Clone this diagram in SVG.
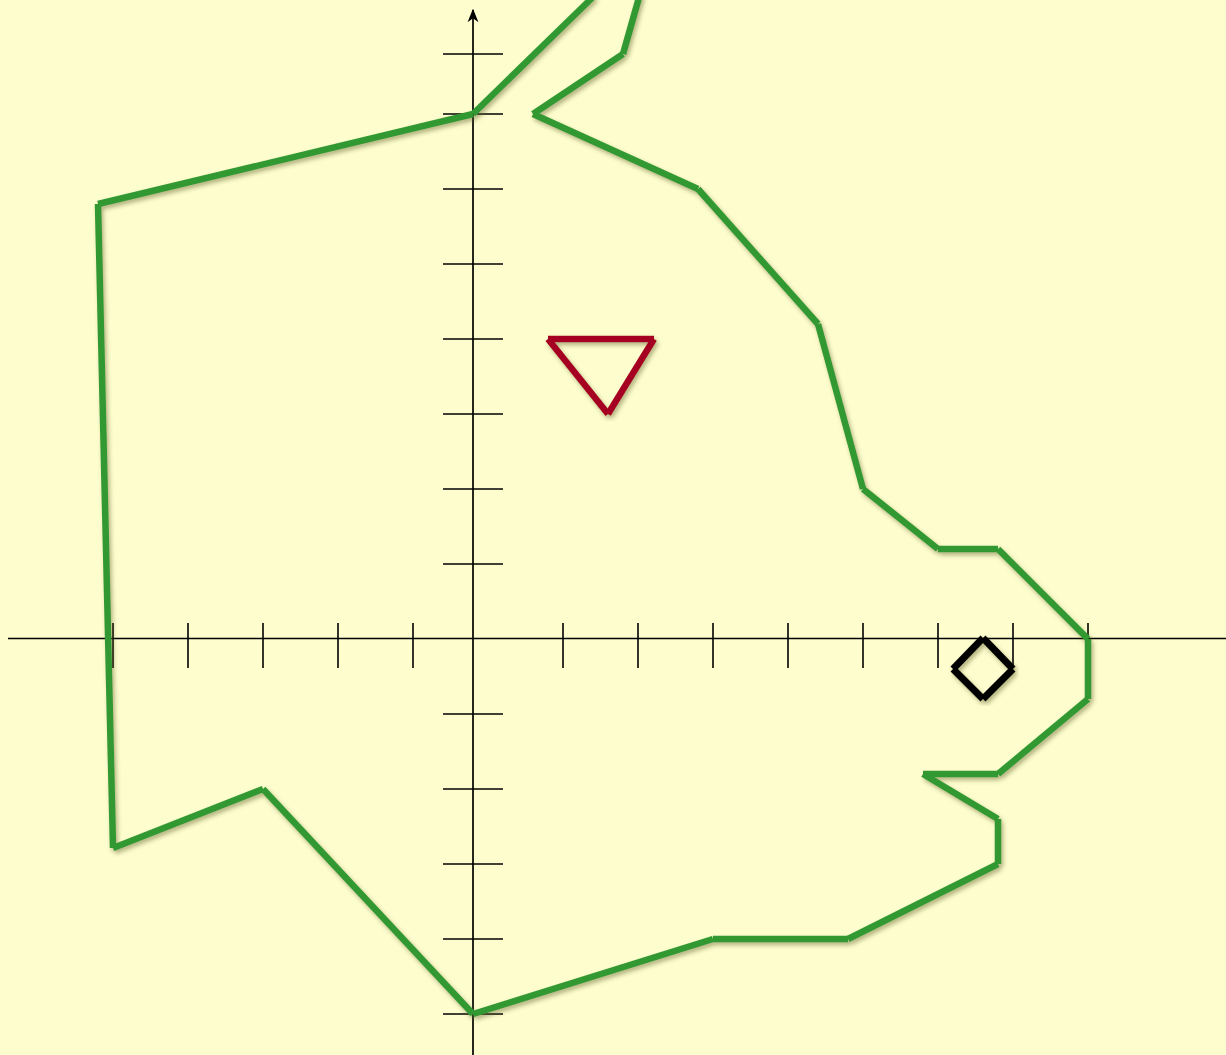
<svg xmlns="http://www.w3.org/2000/svg" width="1226" height="1055" viewBox="0 0 1226 1055">
<style>
.ax{stroke:#000;stroke-width:1.7;fill:none}
.tk{stroke:#000;stroke-width:1.6}
.g line{stroke:#339933;stroke-width:6.5;stroke-linecap:butt}
.r line{stroke:#A50021;stroke-width:6.5;stroke-linecap:butt}
.k line{stroke:#000;stroke-width:7;stroke-linecap:butt}
</style>
<defs>
<filter id="sh" x="-10%" y="-10%" width="120%" height="120%">
<feDropShadow dx="2" dy="3" stdDeviation="2" flood-color="#5a5a20" flood-opacity="0.45"/>
</filter>
<marker id="arr" viewBox="0 0 10 10" refX="9" refY="5" markerWidth="8" markerHeight="8" orient="auto-start-reverse">
<path d="M0,1 L10,5 L0,9 L3,5 Z" fill="#000"/>
</marker>
</defs>
<rect width="1226" height="1055" fill="#FDFDCE"/>
<g id="axes">
<line class="ax" x1="8" y1="638.5" x2="1226" y2="638.5"/>
<line class="ax" x1="473" y1="1055" x2="473" y2="10" marker-end="url(#arr)"/>
<g id="xticks">
<line class="tk" x1="113" y1="623" x2="113" y2="668"/>
<line class="tk" x1="188" y1="623" x2="188" y2="668"/>
<line class="tk" x1="263" y1="623" x2="263" y2="668"/>
<line class="tk" x1="338" y1="623" x2="338" y2="668"/>
<line class="tk" x1="413" y1="623" x2="413" y2="668"/>
<line class="tk" x1="563" y1="623" x2="563" y2="668"/>
<line class="tk" x1="638" y1="623" x2="638" y2="668"/>
<line class="tk" x1="713" y1="623" x2="713" y2="668"/>
<line class="tk" x1="788" y1="623" x2="788" y2="668"/>
<line class="tk" x1="863" y1="623" x2="863" y2="668"/>
<line class="tk" x1="938" y1="623" x2="938" y2="668"/>
<line class="tk" x1="1013" y1="623" x2="1013" y2="668"/>
<line class="tk" x1="1088" y1="623" x2="1088" y2="668"/>
</g>
<g id="yticks">
<line class="tk" x1="443" y1="54" x2="503" y2="54"/>
<line class="tk" x1="443" y1="114" x2="503" y2="114"/>
<line class="tk" x1="443" y1="189" x2="503" y2="189"/>
<line class="tk" x1="443" y1="264" x2="503" y2="264"/>
<line class="tk" x1="443" y1="339" x2="503" y2="339"/>
<line class="tk" x1="443" y1="414" x2="503" y2="414"/>
<line class="tk" x1="443" y1="489" x2="503" y2="489"/>
<line class="tk" x1="443" y1="564" x2="503" y2="564"/>
<line class="tk" x1="443" y1="714" x2="503" y2="714"/>
<line class="tk" x1="443" y1="789" x2="503" y2="789"/>
<line class="tk" x1="443" y1="864" x2="503" y2="864"/>
<line class="tk" x1="443" y1="939" x2="503" y2="939"/>
<line class="tk" x1="443" y1="1014" x2="503" y2="1014"/>
</g>
</g>
<g id="rabbit" class="g" filter="url(#sh)">
<line x1="594" y1="-4" x2="473" y2="114"/>
<line x1="473" y1="114" x2="98" y2="204"/>
<line x1="98" y1="204" x2="113" y2="848"/>
<line x1="113" y1="848" x2="263" y2="789"/>
<line x1="263" y1="789" x2="473" y2="1014"/>
<line x1="473" y1="1014" x2="713" y2="939"/>
<line x1="713" y1="939" x2="848" y2="939"/>
<line x1="848" y1="939" x2="998" y2="864"/>
<line x1="998" y1="864" x2="998" y2="819"/>
<line x1="998" y1="819" x2="923" y2="774"/>
<line x1="923" y1="774" x2="998" y2="774"/>
<line x1="998" y1="774" x2="1088" y2="699"/>
<line x1="1088" y1="699" x2="1088" y2="639"/>
<line x1="1088" y1="639" x2="998" y2="549"/>
<line x1="998" y1="549" x2="938" y2="549"/>
<line x1="938" y1="549" x2="863" y2="489"/>
<line x1="863" y1="489" x2="818" y2="324"/>
<line x1="818" y1="324" x2="698" y2="189"/>
<line x1="698" y1="189" x2="533" y2="114"/>
<line x1="533" y1="114" x2="623" y2="54"/>
<line x1="623" y1="54" x2="640" y2="-6"/>
</g>
<g id="triangle" class="r" filter="url(#sh)">
<line x1="548" y1="339" x2="654" y2="339"/>
<line x1="654" y1="339" x2="608" y2="414"/>
<line x1="608" y1="414" x2="548" y2="339"/>
</g>
<g id="diamond" class="k" filter="url(#sh)">
<line x1="983" y1="638" x2="1013" y2="669"/>
<line x1="1013" y1="669" x2="983" y2="699"/>
<line x1="983" y1="699" x2="953" y2="669"/>
<line x1="953" y1="669" x2="983" y2="638"/>
</g>
</svg>
